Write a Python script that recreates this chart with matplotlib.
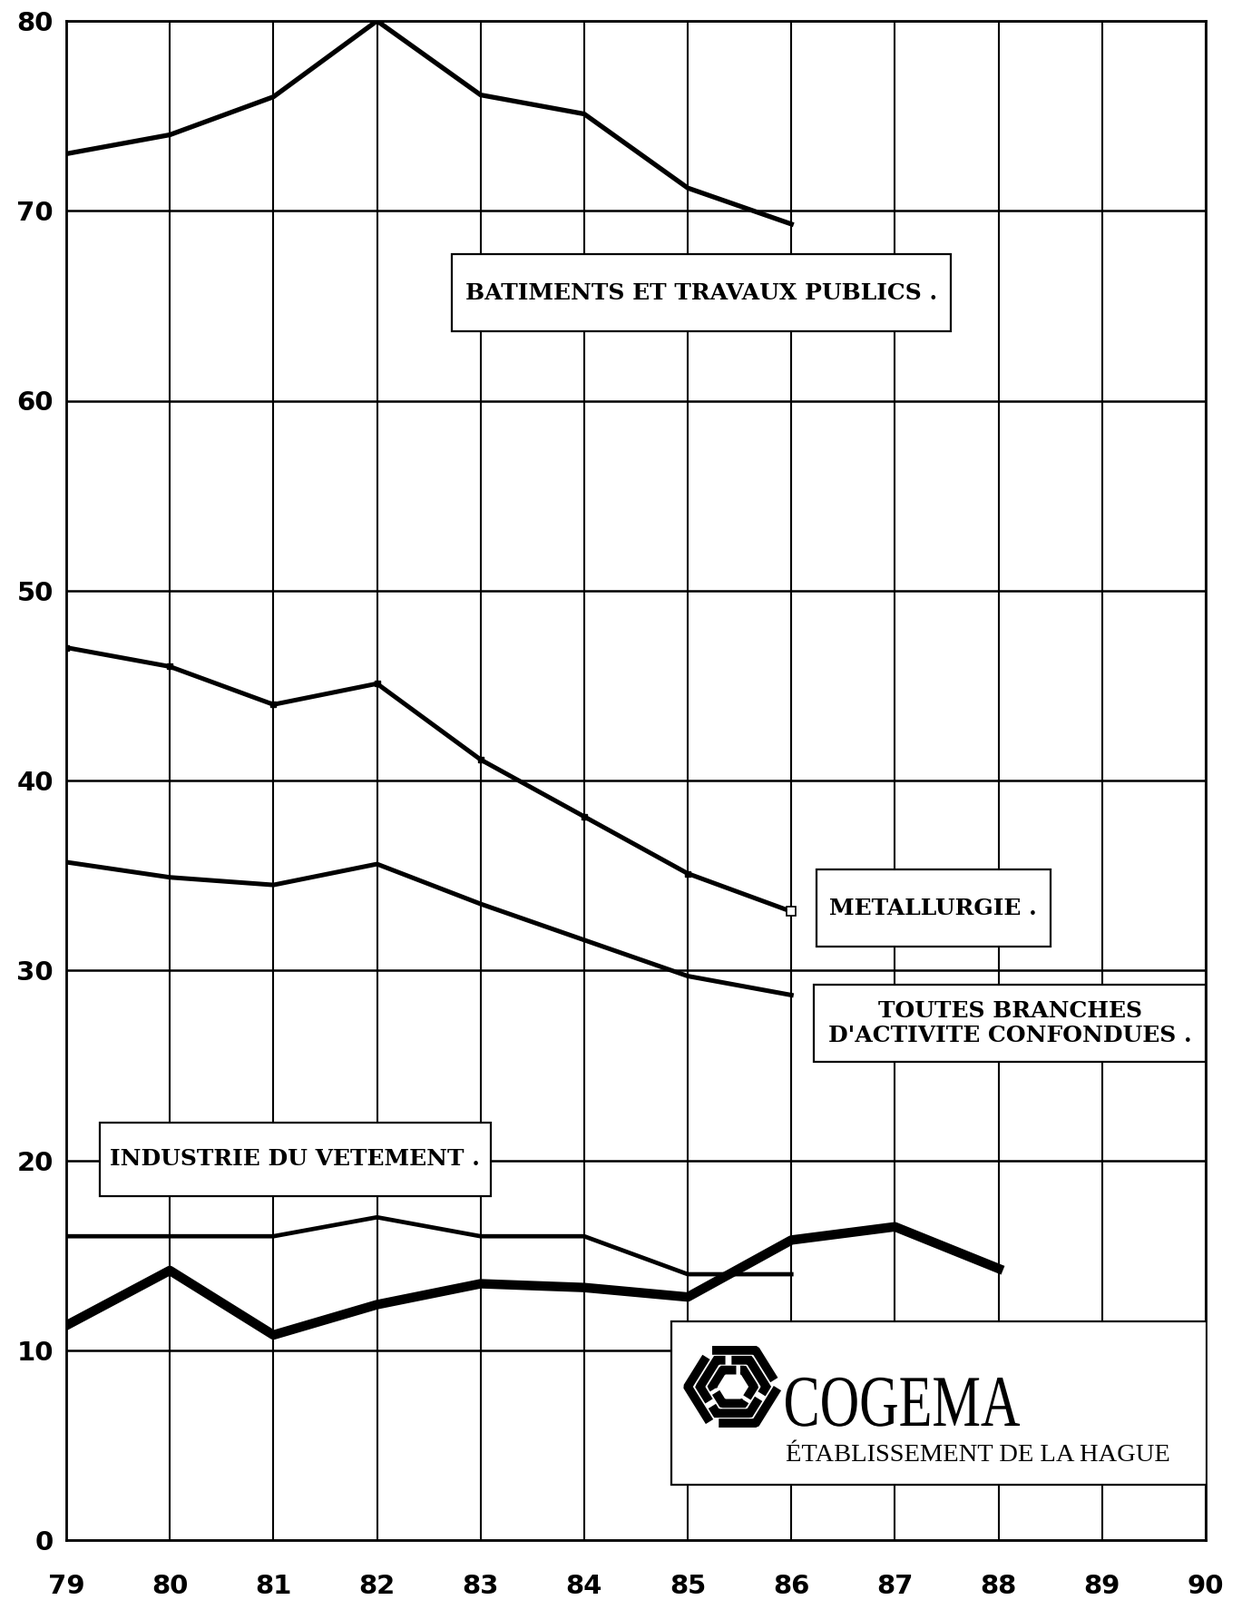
import numpy as np
import matplotlib
matplotlib.use("Agg")
import matplotlib.pyplot as plt
from matplotlib.patches import Rectangle, PathPatch
from matplotlib.lines import Line2D
from matplotlib.textpath import TextPath
from matplotlib.font_manager import FontProperties
from matplotlib.transforms import Affine2D

# ---- data ----
years_8 = [79, 80, 81, 82, 83, 84, 85, 86]
years_10 = [79, 80, 81, 82, 83, 84, 85, 86, 87, 88]
batiments = [73.0, 74.0, 76.0, 80.0, 76.1, 75.1, 71.2, 69.3]
metallurgie = [47.0, 46.0, 44.0, 45.1, 41.1, 38.1, 35.1, 33.1]
toutes_branches = [35.7, 34.9, 34.5, 35.6, 33.5, 31.6, 29.7, 28.7]
vetement = [16.0, 16.0, 16.0, 17.0, 16.0, 16.0, 14.0, 14.0]
la_hague = [11.3, 14.2, 10.8, 12.4, 13.5, 13.3, 12.8, 15.8, 16.5, 14.3]
x_ticks = list(range(79, 91))
y_ticks = list(range(0, 81, 10))
labels = {
    "bat": "BATIMENTS ET TRAVAUX PUBLICS .",
    "met": "METALLURGIE .",
    "tout": "TOUTES BRANCHES\nD'ACTIVITE CONFONDUES .",
    "vet": "INDUSTRIE DU VETEMENT .",
}

W, H = 1369, 1763
fig = plt.figure(figsize=(W / 100, H / 100), dpi=100)
fig.patch.set_facecolor("white")
ax = fig.add_axes([73 / W, 1 - 1697 / H, (1329 - 73) / W, (1697 - 23) / H])
ax.set_xlim(79, 90)
ax.set_ylim(0, 80)

for x in x_ticks:
    ax.axvline(x, color="black", lw=1.5, zorder=1)
for y in y_ticks:
    ax.axhline(y, color="black", lw=1.8, zorder=1)
for s in ax.spines.values():
    s.set_linewidth(2.0)

ax.set_xticks(x_ticks)
ax.set_xticklabels([str(v) for v in x_ticks])
ax.set_yticks(y_ticks)
ax.set_yticklabels([str(v) for v in y_ticks])
ax.tick_params(axis="both", length=0, labelsize=21)
ax.tick_params(axis="x", pad=27)
ax.tick_params(axis="y", pad=10)
for lab in ax.get_xticklabels() + ax.get_yticklabels():
    lab.set_fontweight("bold")
    lab.set_family("DejaVu Sans")

ax.plot(years_8, batiments, color="black", lw=3.8, zorder=3)
ax.plot(years_8, metallurgie, color="black", lw=3.6, zorder=3,
        marker="s", markersize=4, markevery=list(range(7)))
ax.plot(years_8[-1:], metallurgie[-1:], marker="s", markersize=7,
        markerfacecolor="white", markeredgecolor="black", markeredgewidth=1.2, lw=0, zorder=4)
ax.plot(years_8, toutes_branches, color="black", lw=3.6, zorder=3)
ax.plot(years_8, vetement, color="black", lw=3.4, zorder=3)
ax.plot(years_10, la_hague, color="black", lw=7.5, zorder=3)

serif_bold = dict(family="DejaVu Serif", fontweight="bold", color="black")

def box(x0, x1, y0, y1, text, size, lh=1.2):
    ax.add_patch(Rectangle((x0, y0), x1 - x0, y1 - y0, facecolor="white",
                           edgecolor="black", lw=1.6, zorder=5))
    ax.text((x0 + x1) / 2, (y0 + y1) / 2, text, ha="center", va="center",
            fontsize=size, zorder=6, linespacing=lh, **serif_bold)

box(82.72, 87.54, 63.65, 67.7, labels["bat"], 18)
box(86.24, 88.5, 31.25, 35.3, labels["met"], 18)
box(86.22, 90.0, 25.2, 29.26, labels["tout"], 18, 1.15)
box(79.32, 83.1, 18.1, 22.0, labels["vet"], 18)

# COGEMA box
ax.add_patch(Rectangle((84.84, 2.9), 90.01 - 84.84, 11.54 - 2.9, facecolor="white",
                       edgecolor="black", lw=1.6, zorder=5))

# logo (decorative hexagonal swirl) in figure pixel space
def hex_pt(theta, r):
    t = np.deg2rad(theta)
    k = np.floor(theta / 60.0)
    a0 = np.deg2rad(60 * k)
    a1 = np.deg2rad(60 * (k + 1))
    p0 = np.array([np.cos(a0), np.sin(a0)])
    p1 = np.array([np.cos(a1), np.sin(a1)])
    d = np.array([np.cos(t), np.sin(t)])
    M = np.column_stack([d, p0 - p1])
    s, _ = np.linalg.solve(M, p0)
    return r * s * d

def hex_arc(t0, t1, r, n=80):
    ts = np.linspace(t0, t1, n)
    return np.array([hex_pt(t % 360, r) for t in ts])

cx, cy, Rx, Ry = 808, H - 1528, 52, 48
for k in range(3):
    for i, r in enumerate([0.96, 0.70, 0.44]):
        pts = hex_arc(120 * k + 10 - 25 * i, 120 * k + 118 - 25 * i, r)
        xs = (cx + Rx * pts[:, 0]) / W
        ys = (cy + Ry * pts[:, 1] / (np.sqrt(3) / 2) * 0.87) / H
        fig.add_artist(Line2D(xs, ys, color="black", lw=7.0,
                              solid_capstyle="butt", solid_joinstyle="miter",
                              zorder=10, transform=fig.transFigure))

tp = TextPath((0, 0), "COGEMA", size=1, prop=FontProperties(family="Liberation Serif"))
ext = tp.get_extents()
tw, th = 258, 54
tr = (Affine2D().translate(-ext.x0, 0).scale(tw / ext.width / W, th / ext.height / H)
      .translate(866 / W, (H - 1571) / H) + fig.transFigure)
fig.add_artist(PathPatch(tp, facecolor="black", edgecolor="none", transform=tr, zorder=10))

fig.text(866 / W, (H - 1604) / H, "ÉTABLISSEMENT DE LA HAGUE", ha="left", va="center",
         fontsize=20.5, family="Liberation Serif", color="black", zorder=10)

fig.savefig("out.png", dpi=100, facecolor="white")
